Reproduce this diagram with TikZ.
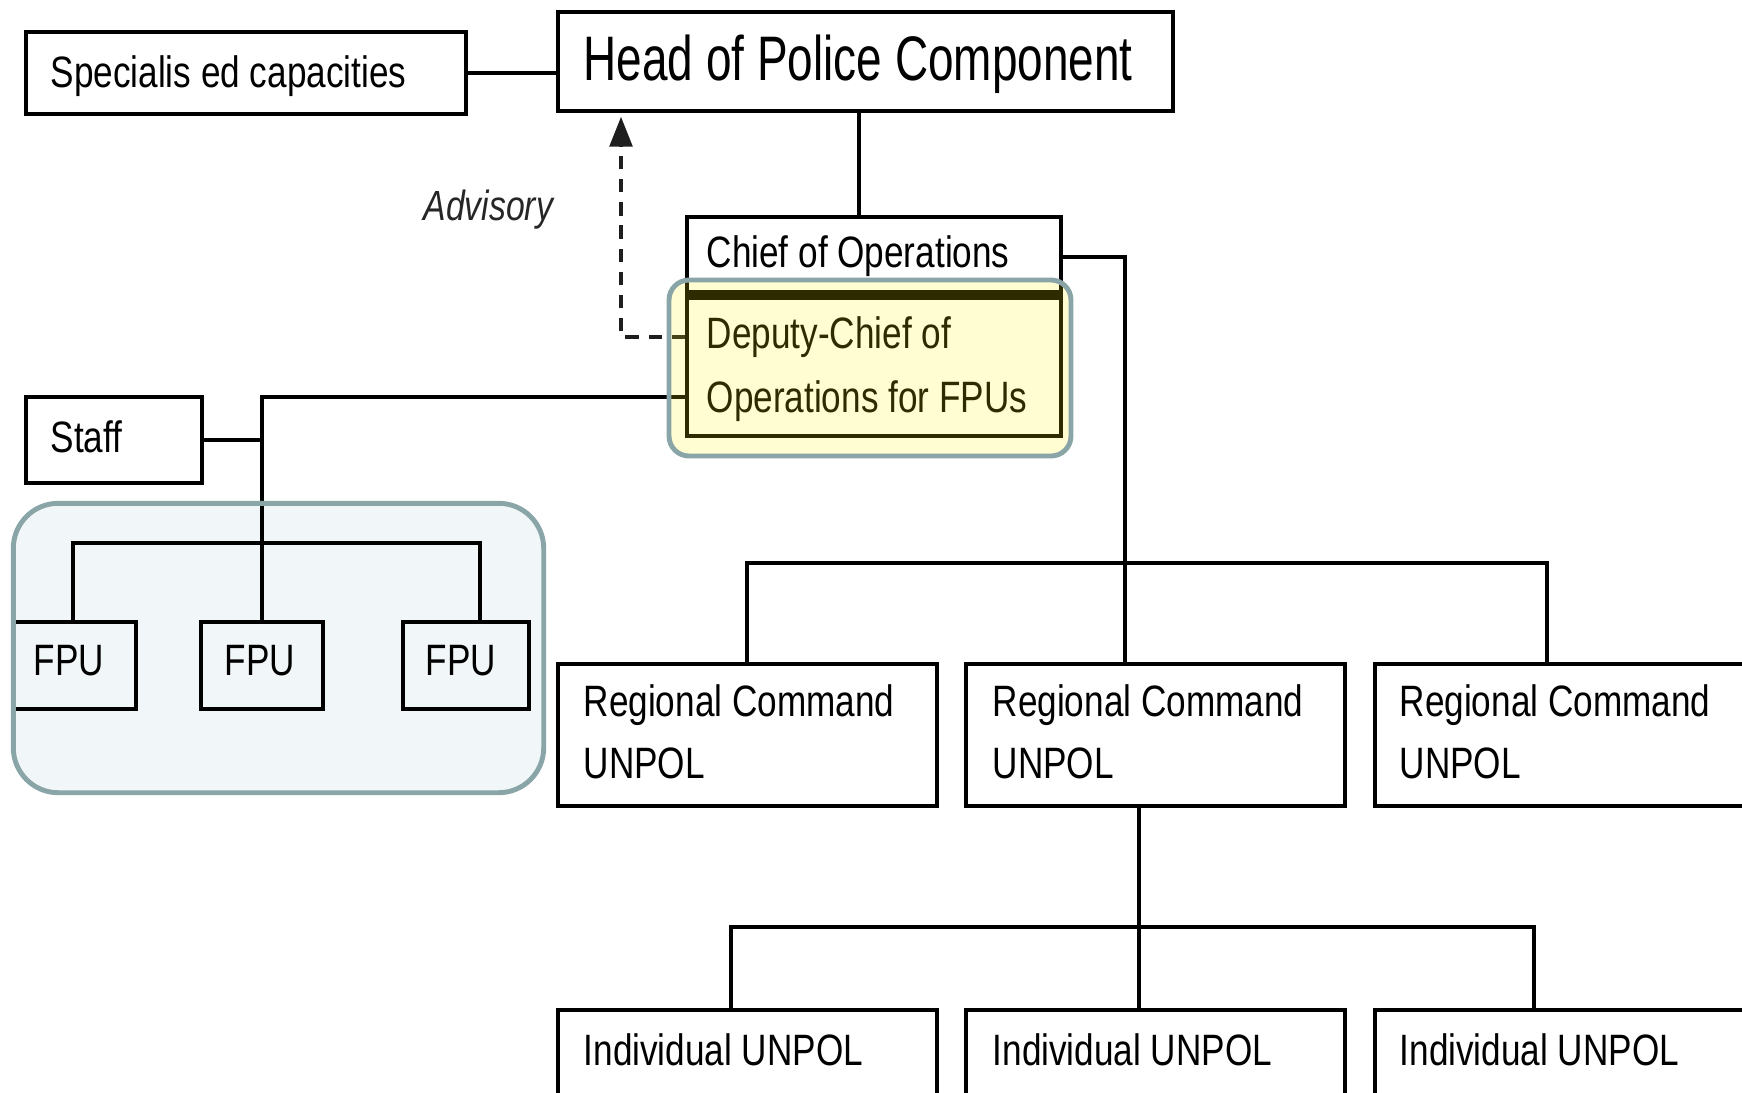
\documentclass[tikz,border=0pt]{standalone}
\usepackage{fontspec}
\setmainfont[FakeStretch=0.8]{Liberation Sans}
\newfontfamily\headfont[FakeStretch=0.73]{Liberation Sans}
\usetikzlibrary{fit,arrows.meta}
\definecolor{hlborder}{HTML}{8AA5A8}
\definecolor{grpfill}{HTML}{F1F6F9}
\definecolor{dashgray}{HTML}{1E1E1E}
\tikzset{
  box/.style={draw, line width=1.1pt, inner sep=0pt},
  conn/.style={line width=1pt},
  lbl/.style={inner sep=0pt, anchor=base west, font=\fontsize{12.5}{15}\selectfont},
}
\begin{document}
\begin{tikzpicture}[x=0.1mm,y=-0.1mm]
\useasboundingbox (0,0) rectangle (1742,1092);
\clip (0,0) rectangle (1742,1092);

% FPU group background
\node[fit={(14,504)(543,792)}, inner sep=0pt, fill=grpfill, rounded corners=4.5mm] (grp) {};

% boxes
\node[box, fit={(26,32)(466,114)}] (spec) {};
\node[box, fit={(558,12)(1173,111)}] (head) {};
\node[box, fit={(687,217)(1061,297)}] (chief) {};
\node[box, fit={(687,297)(1061,436)}] (deputy) {};
\node[box, fit={(26,397)(202,483)}] (staff) {};
\node[box, fit={(13,622)(136,709)}] (fpu1) {};
\node[box, fit={(201,622)(323,709)}] (fpu2) {};
\node[box, fit={(403,622)(529,709)}] (fpu3) {};
\node[box, fit={(558,664)(937,806)}] (reg1) {};
\node[box, fit={(966,664)(1345,806)}] (reg2) {};
\node[box, fit={(1375,664)(1754,806)}] (reg3) {};
\node[box, fit={(558,1010)(937,1150)}] (ind1) {};
\node[box, fit={(966,1010)(1345,1150)}] (ind2) {};
\node[box, fit={(1375,1010)(1754,1150)}] (ind3) {};
\draw[line width=2.8pt] (deputy.north west) -- (deputy.north east);

% texts
\node[lbl] (tspec) at (50,87) {Specialis ed capacities};
\node[lbl, font=\headfont\fontsize{17.9}{21}\selectfont] (thead) at (583,80) {Head of Police Component};
\node[lbl] (tchief) at (706,267) {Chief of Operations};
\node[lbl] (tdep1) at (706,348) {Deputy-Chief of};
\node[lbl] (tdep2) at (706,412) {Operations for FPUs};
\node[lbl, font=\itshape\fontsize{12}{14}\selectfont, text=black!85] (tadv) at (423,220) {Advisory};
\node[lbl] (tstaff) at (50,452) {Staff};
\node[lbl] (tfpu1) at (33,675) {FPU};
\node[lbl] (tfpu2) at (224,675) {FPU};
\node[lbl] (tfpu3) at (425,675) {FPU};
\node[lbl] (treg1a) at (583,716) {Regional Command};
\node[lbl] (treg1b) at (583,778) {UNPOL};
\node[lbl] (treg2a) at (992,716) {Regional Command};
\node[lbl] (treg2b) at (992,778) {UNPOL};
\node[lbl] (treg3a) at (1399,716) {Regional Command};
\node[lbl] (treg3b) at (1399,778) {UNPOL};
\node[lbl] (tind1) at (583,1065) {Individual UNPOL};
\node[lbl] (tind2) at (992,1065) {Individual UNPOL};
\node[lbl] (tind3) at (1399,1065) {Individual UNPOL};

% connector coordinates
\coordinate (cA) at (859,0);
\coordinate (cB) at (1125,563);
\coordinate (bar1l) at (747,563);
\coordinate (bar1r) at (1547,563);
\coordinate (cC) at (1139,927);
\coordinate (bar2l) at (731,927);
\coordinate (bar2r) at (1534,927);
\coordinate (cD) at (262,397);
\coordinate (fb1) at (73,543);
\coordinate (fb3) at (480,543);
\coordinate (adv) at (621,337);

% connectors
\draw[conn] (spec.east) -- (spec.east -| head.west);
\draw[conn] (head.south -| cA) -- (chief.north -| cA);
\draw[conn] (chief.east) -| (reg2.north -| cB);
\draw[conn] (reg1.north -| bar1l) -- (bar1l) -- (bar1r) -- (reg3.north -| bar1r);
\draw[conn] (reg2.south -| cC) -- (ind2.north -| cC);
\draw[conn] (ind1.north -| bar2l) -- (bar2l) -- (bar2r) -- (ind3.north -| bar2r);
\draw[conn] (staff.east) -- (staff.east -| cD);
\draw[conn] (deputy.west |- cD) -- (cD) -- (fpu2.north -| cD);
\draw[conn] (fpu1.north -| fb1) -- (fb1) -- (fb3) -- (fpu3.north -| fb3);
\draw[dashgray, line width=0.9pt, dash pattern=on 3.8pt off 2.8pt, -{Triangle[width=6.5pt,length=8.5pt]}, shorten >=1.1pt]
  (deputy.west |- adv) -- (adv) -- (adv |- head.south);

% FPU group border
\draw[hlborder, line width=1.4pt, rounded corners=4.5mm] (grp.north west) rectangle (grp.south east);

% highlight overlay
\node[fit={(669,280)(1071,456)}, inner sep=0pt, rounded corners=2mm, draw=hlborder, line width=1.4pt, fill=yellow, fill opacity=0.18] (hl) {};
\end{tikzpicture}
\end{document}
